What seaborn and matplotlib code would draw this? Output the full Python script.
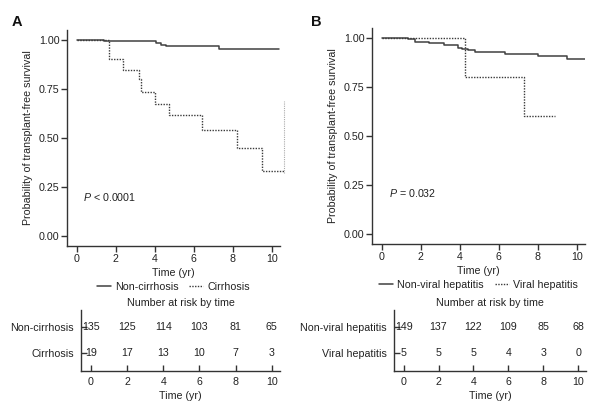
import pandas as pd
import matplotlib
matplotlib.use("Agg")
import matplotlib.pyplot as plt
import seaborn as sns

sns.set_style("ticks")
plt.rcParams['font.family'] = ['Liberation Sans', 'DejaVu Sans']
plt.rcParams['mathtext.fontset'] = 'custom'
plt.rcParams['mathtext.it'] = 'Liberation Sans:italic'

# Panel A: Kaplan-Meier step data
a_noncirr_t = [0, 1.4, 4.05, 4.3, 4.6, 7.3, 10.36]
a_noncirr_s = [1.0, 0.993, 0.985, 0.975, 0.967, 0.955, 0.955]
a_cirr_t = [0, 1.65, 2.35, 3.2, 3.3, 4.0, 4.75, 6.4, 8.2, 9.5, 10.6]
a_cirr_s = [1.0, 0.9, 0.846, 0.80, 0.733, 0.675, 0.616, 0.539, 0.449, 0.332, 0.332]
a_tail_t = [10.6, 10.6]
a_tail_s = [0.32, 0.69]

# Panel B
b_nonviral_t = [0, 1.35, 1.7, 2.4, 3.2, 3.9, 4.1, 4.4, 4.8, 6.3, 8.0, 9.5, 10.4]
b_nonviral_s = [1.0, 0.993, 0.981, 0.976, 0.962, 0.950, 0.944, 0.936, 0.927, 0.917, 0.905, 0.892, 0.892]
b_viral_t = [0, 4.25, 7.3, 8.9]
b_viral_s = [1.0, 0.80, 0.60, 0.60]

# Number at risk tables
risk_times = [0, 2, 4, 6, 8, 10]
a_groups = ["Non-cirrhosis", "Cirrhosis"]
a_risk_noncirr = [135, 125, 114, 103, 81, 65]
a_risk_cirr = [19, 17, 13, 10, 7, 3]
b_groups = ["Non-viral hepatitis", "Viral hepatitis"]
b_risk_nonviral = [149, 137, 122, 109, 85, 68]
b_risk_viral = [5, 5, 5, 4, 3, 0]

W, H = 608, 418
fig = plt.figure(figsize=(W / 100, H / 100), dpi=100)

def px_axes(l, r, t, b):
    return fig.add_axes([l / W, (H - b) / H, (r - l) / W, (b - t) / H])

TXT = '#222222'
SP = '#333333'
FS = 7.7

def style(ax):
    for s in ['top', 'right']:
        ax.spines[s].set_visible(False)
    for s in ['left', 'bottom']:
        ax.spines[s].set_color(SP)
        ax.spines[s].set_linewidth(1.0)
    ax.tick_params(colors=SP, labelcolor=TXT, labelsize=FS, width=1.0)

def km_panel(ax, t1, s1, t2, s2, lab1, lab2, ptext, ptxy):
    d1 = pd.DataFrame({'t': t1, 's': s1})
    d2 = pd.DataFrame({'t': t2, 's': s2})
    sns.lineplot(data=d1, x='t', y='s', ax=ax, estimator=None, drawstyle='steps-post',
                 color='#404040', linewidth=1.1, label=lab1)
    sns.lineplot(data=d2, x='t', y='s', ax=ax, estimator=None, drawstyle='steps-post',
                 color='#3a3a3a', linewidth=1.0, linestyle=(0, (1, 1)), label=lab2,
                 clip_on=False)
    ax.set_xlim(-0.5, 10.42)
    ax.set_ylim(-0.05, 1.05)
    ax.set_xticks(risk_times)
    ax.set_yticks([0, 0.25, 0.5, 0.75, 1.0])
    ax.set_yticklabels(['0.00', '0.25', '0.50', '0.75', '1.00'])
    style(ax)
    ax.tick_params(direction='out', length=4, pad=1.5)
    ax.set_xlabel('Time (yr)', fontsize=FS, color=TXT, labelpad=3)
    ax.set_ylabel('Probability of transplant-free survival', fontsize=FS, color=TXT, labelpad=4)
    ax.text(ptxy[0], ptxy[1], ptext, fontsize=FS, color=TXT, va='center')

def add_legend(ax):
    h, l = ax.get_legend_handles_labels()
    ax.legend(h[:2], l[:2], loc='center', bbox_to_anchor=(0.5, -0.19), ncol=2,
              frameon=False, fontsize=FS, handlelength=1.3, handletextpad=0.4,
              columnspacing=1.0, labelcolor=TXT)

def risk_panel(ax, groups, r1, r2):
    for row, vals in zip([1, 0], [r1, r2]):
        for t, v in zip(risk_times, vals):
            ax.text(t, row, str(v), ha='center', va='center', fontsize=FS, color=TXT)
    ax.set_xlim(-0.55, 10.45)
    ax.set_ylim(-0.69, 1.65)
    ax.set_xticks(risk_times)
    ax.set_yticks([1, 0])
    ax.set_yticklabels(groups)
    style(ax)
    ax.tick_params(direction='in', length=4)
    ax.tick_params(axis='y', pad=5)
    ax.tick_params(axis='x', pad=4)
    ax.set_xlabel('Time (yr)', fontsize=FS, color=TXT, labelpad=3)
    ax.set_title('Number at risk by time', fontsize=FS, color=TXT, pad=3)

axA = px_axes(67, 280, 30, 246)
km_panel(axA, a_noncirr_t, a_noncirr_s, a_cirr_t, a_cirr_s, 'Non-cirrhosis', 'Cirrhosis',
         '$\\mathit{P}$ < 0.0001', (0.3, 0.2))
# faint vertical dotted trace at the right edge of the cirrhosis curve
sns.lineplot(x=a_tail_t, y=a_tail_s, ax=axA, estimator=None, color='#aaaaaa',
             linewidth=0.8, linestyle=(0, (1, 1)), clip_on=False)
add_legend(axA)

axB = px_axes(372, 585, 28, 244)
km_panel(axB, b_nonviral_t, b_nonviral_s, b_viral_t, b_viral_s, 'Non-viral hepatitis',
         'Viral hepatitis', '$\\mathit{P}$ = 0.032', (0.36, 0.21))
add_legend(axB)

rA = px_axes(81, 280, 310, 371)
risk_panel(rA, a_groups, a_risk_noncirr, a_risk_cirr)
rB = px_axes(394, 586, 310, 371)
risk_panel(rB, b_groups, b_risk_nonviral, b_risk_viral)

fig.text(12 / W, 1 - 22 / H, 'A', fontsize=10.5, fontweight='bold', va='center', color='#111111')
fig.text(311 / W, 1 - 22 / H, 'B', fontsize=10.5, fontweight='bold', va='center', color='#111111')

fig.savefig('out.png', dpi=100, facecolor='white')
